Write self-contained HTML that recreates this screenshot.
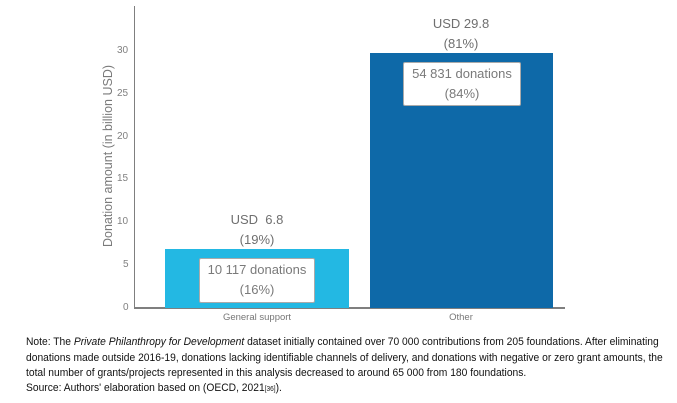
<!DOCTYPE html>
<html><head><style>
body{margin:0;width:677px;height:403px;background:#fff;position:relative;overflow:hidden;font-family:"Liberation Sans",Arial,sans-serif}
.a{position:absolute}
.t{color:#808080;font-size:10px}
.lbl{color:#6f6f6f;font-size:13px;text-align:center;line-height:20px}
.box{position:absolute;background:#fff;border:1px solid #aaa;border-radius:2px;color:#7a7a7a;font-size:13px;text-align:center;line-height:20px}
.note{position:absolute;left:26px;font-size:11px;color:#111;white-space:nowrap;transform-origin:0 0;transform:scaleX(0.935)}
</style></head><body>
<div class="a" style="left:134px;top:6px;width:1px;height:302px;background:#7f7f7f"></div>
<div class="a" style="left:134px;top:307px;width:431px;height:2px;background:#7f7f7f"></div>
<div class="a t" style="left:123px;top:302px">0</div>
<div class="a t" style="left:123px;top:259px">5</div>
<div class="a t" style="left:117px;top:216px">10</div>
<div class="a t" style="left:117px;top:173px">15</div>
<div class="a t" style="left:117px;top:131px">20</div>
<div class="a t" style="left:117px;top:88px">25</div>
<div class="a t" style="left:117px;top:45px">30</div>
<div class="a" style="left:108px;top:156px;width:0;height:0"><div style="position:absolute;transform:translate(-50%,-50%) rotate(-90deg);white-space:nowrap;color:#7a7a7a;font-size:12.5px">Donation amount (in billion USD)</div></div>
<div class="a" style="left:165px;top:249px;width:184px;height:59px;background:#23b8e3"></div>
<div class="a" style="left:370px;top:53px;width:183px;height:255px;background:#0e69a8"></div>
<div class="box" style="left:199px;top:258px;width:114px;height:42px;padding-top:1px">10 117 donations<br>(16%)</div>
<div class="box" style="left:403px;top:62px;width:116px;height:41px;padding-top:1px">54 831 donations<br>(84%)</div>
<div class="a lbl" style="left:207px;top:210px;width:100px">USD&nbsp; 6.8<br>(19%)</div>
<div class="a lbl" style="left:411px;top:14px;width:100px">USD 29.8<br>(81%)</div>
<div class="a t" style="left:197px;top:312px;width:120px;text-align:center;font-size:9.5px;color:#777">General support</div>
<div class="a t" style="left:401px;top:312px;width:120px;text-align:center;font-size:9.5px;color:#777">Other</div>
<div class="note" style="top:336px">Note: The <i>Private Philanthropy for Development</i> dataset initially contained over 70 000 contributions from 205 foundations. After eliminating</div>
<div class="note" style="top:352px">donations made outside 2016-19, donations lacking identifiable channels of delivery, and donations with negative or zero grant amounts, the</div>
<div class="note" style="top:367px">total number of grants/projects represented in this analysis decreased to around 65 000 from 180 foundations.</div>
<div class="note" style="top:382px">Source: Authors' elaboration based on (OECD, 2021<span style="font-size:7px">[36]</span>).</div>
</body></html>
